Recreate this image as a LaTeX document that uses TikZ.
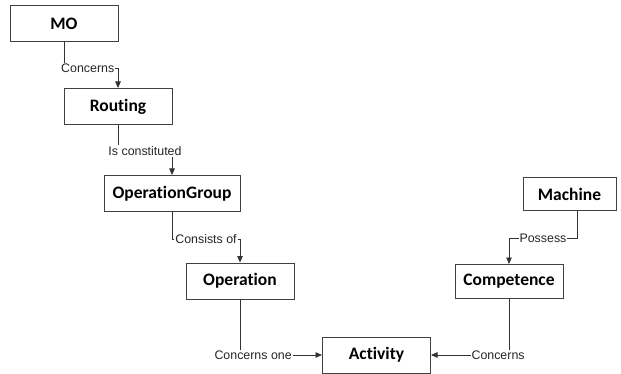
\documentclass[tikz,border=0pt]{standalone}
\usepackage{fontspec}
\setmainfont{Carlito}[Ligatures=NoCommon]
\newfontfamily\linkfont{Liberation Sans}
\usetikzlibrary{arrows.meta, positioning}

\begin{document}
\begin{tikzpicture}[x=1pt, y=-1pt,
  entity/.style={draw=black!75, line width=1pt, fill=white, minimum width=108pt, minimum height=36pt, inner sep=0pt, font=\fontsize{17.5}{20}\selectfont\bfseries},
  link/.style={draw=black!80, line width=0.8pt, -{Triangle[length=6.5pt, width=5.5pt]}},
  linklabel/.style={fill=white, inner sep=1pt, font=\linkfont\fontsize{12.4}{14}\selectfont, text=black!85}
]
\useasboundingbox (0,0) rectangle (621,374);

% entities
\node[entity] (mo) at (64,23.5) {MO};
\node[entity] (routing) at (118,106.5) {Routing};
\node[entity, minimum width=136pt] (opgroup) at (172,193.5) {OperationGroup};
\node[entity] (operation) at (240,281) {Operation};
\node[entity] (activity) at (376.5,355) {Activity};
\node[entity, minimum height=34pt] (competence) at (509,281.5) {Competence};
\node[entity, minimum width=93pt, minimum height=33pt] (machine) at (569.5,194.5) {Machine};

% relations
\draw[link] (mo.south) -- ++(0,26) -| node[linklabel, pos=0.22] {Concerns} (routing.north);
\draw[link] (routing.south) -- ++(0,26) -| node[linklabel, pos=0.25] {Is constituted} (opgroup.north);
\draw[link] (opgroup.south) -- ++(0,27) -| node[linklabel, pos=0.25] {Consists of} (operation.north);
\draw[link] ([xshift=7.5pt]machine.south) -- ++(0,27) -| node[linklabel, pos=0.25] {Possess} (competence.north);
\draw[link] (operation.south) |- node[linklabel, pos=0.58] {Concerns one} (activity.west);
\draw[link] (competence.south) |- node[linklabel, pos=0.57] {Concerns} (activity.east);
\end{tikzpicture}
\end{document}
